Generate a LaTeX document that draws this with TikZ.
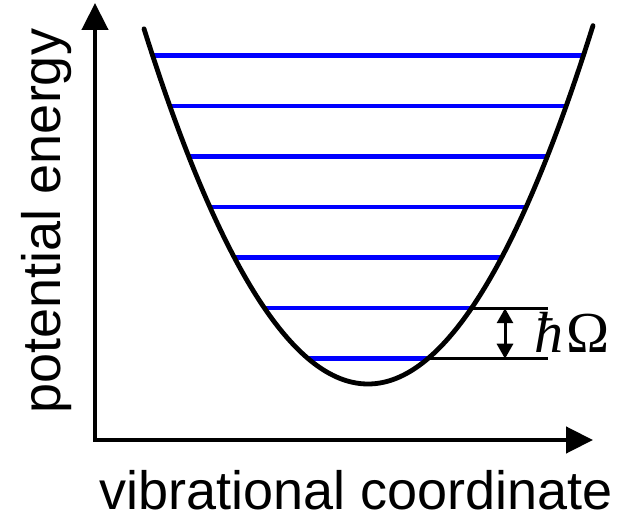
\documentclass[tikz,border=0pt]{standalone}
\usepackage{fontspec}
\setmainfont{Liberation Sans}
\newfontfamily\symfont{Liberation Serif}
\usetikzlibrary{arrows.meta, calc}
\tikzset{
  axis/.style={{Triangle[length=27pt, width=26pt]}-{Triangle[length=27pt, width=26pt]}, line width=4.5pt},
  well/.style={line width=4.8pt, line cap=round},
  level/.style={draw=blue, line width=4.5pt},
  tick/.style={line width=3pt},
  gap/.style={{Triangle[length=15pt, width=16pt]}-{Triangle[length=15pt, width=16pt]}, line width=3pt},
  lbl/.style={font=\fontsize{54}{60}\selectfont, inner sep=0pt},
  sym/.style={font=\symfont\fontsize{58}{62}\selectfont, inner sep=0pt},
}
\begin{document}
\begin{tikzpicture}[x=1pt, y=-1pt]
  \useasboundingbox (0,0) rectangle (621,518);
  % axes
  \coordinate (origin) at (95,440);
  \coordinate (ytop) at (95,3);
  \coordinate (xend) at (593,440);
  \draw[axis] (ytop) -- (origin) -- (xend);
  % vibrational levels
  \foreach \n in {0,...,6} {
    \pgfmathsetmacro\ylev{384-25.25*(2*\n+1)}
    \pgfmathsetmacro\half{11.885*sqrt(25.25*(2*\n+1))}
    \coordinate (l\n) at ({368-\half},\ylev);
    \coordinate (r\n) at ({368+\half},\ylev);
    \coordinate (t\n) at (548,\ylev);
    \coordinate (g\n) at (505,\ylev);
    \draw[level] (l\n) -- (r\n);
  }
  % potential well
  \draw[well] plot[domain=144:593, samples=90, smooth] (\x, {384-(0.08414*(\x-368))^2});
  % level spacing
  \draw[tick] (r0) -- (t0);
  \draw[tick] (r1) -- (t1);
  \draw[gap] (g0) -- (g1);
  \node[sym, anchor=base west] (quanta) at (534,353) {\itshape ħ\kern3pt\upshape Ω};
  % axis labels
  \node[lbl, rotate=90, anchor=base] (ylabel) at (60,221) {potential energy};
  \node[lbl, anchor=base] (xlabel) at (356,509) {vibrational coordinate};
\end{tikzpicture}
\end{document}
